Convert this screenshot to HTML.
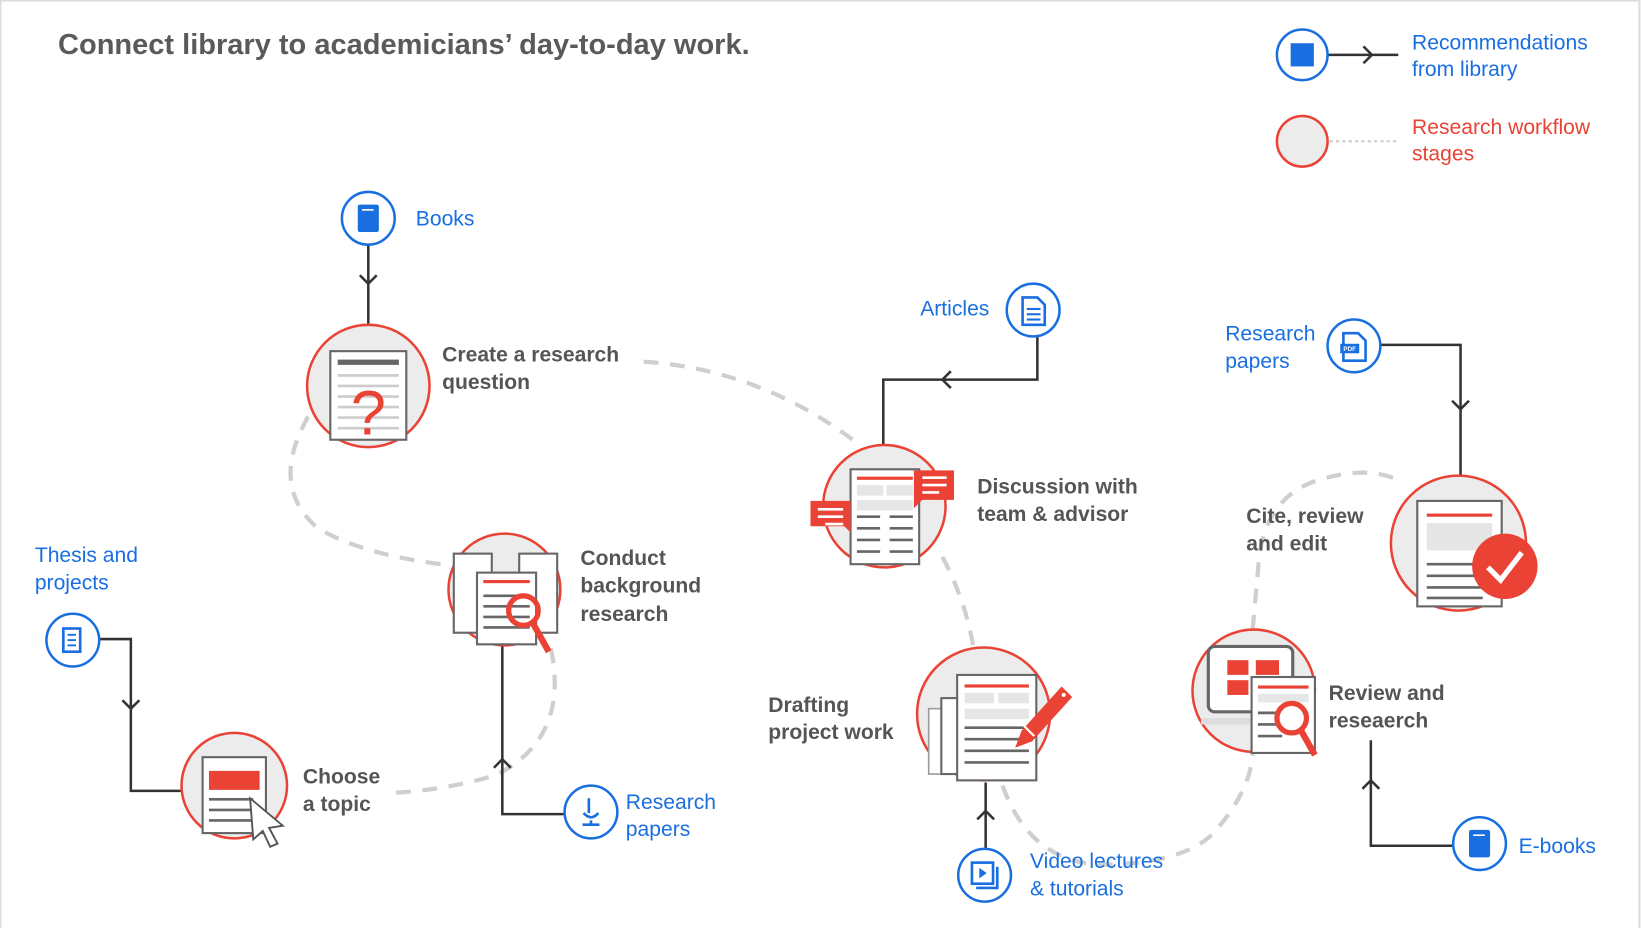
<!DOCTYPE html>
<html><head><meta charset="utf-8"><style>
html,body{margin:0;padding:0;background:#fff;}
svg{display:block;}
text{font-family:"Liberation Sans",Arial,sans-serif;}
.lb{fill:#555;font-weight:bold;font-size:20px;}
.bl{fill:#1a6fe0;font-size:20px;}
.ln{stroke:#333;stroke-width:2.4;fill:none;}
.ds{stroke:#cfcfcf;stroke-width:4;fill:none;stroke-dasharray:14 11;}
.st{fill:#ececec;stroke:#ea4335;stroke-width:2.4;}
.ic{fill:#fff;stroke:#1a6fe0;stroke-width:2.4;}
.pg{fill:#fff;stroke:#666;stroke-width:2;}
.gl{stroke:#666;stroke-width:2.5;}
.rd{fill:#ea4335;}
.bb{fill:#1a6fe0;}
</style></head><body>
<svg width="1641" height="928" viewBox="0 0 1555 880" preserveAspectRatio="none">
<rect x="0.5" y="0.5" width="1553" height="884" fill="#fff" stroke="#ddd" stroke-width="2"/>
<text x="55" y="51" style="font-size:27.5px;font-weight:bold;fill:#5a5a5a">Connect library to academicians’ day-to-day work.</text>

<!-- legend -->
<line x1="1258" y1="52" x2="1325" y2="52" class="ln"/>
<polyline points="1292,44 1300,52 1292,60" class="ln"/>
<circle cx="1234" cy="52" r="24" class="ic"/>
<rect x="1223" y="41" width="22" height="22" class="bb"/>
<text x="1338" y="47" class="bl">Recommendations</text>
<text x="1338" y="72" class="bl">from library</text>
<line x1="1260" y1="134" x2="1325" y2="134" stroke="#ccc" stroke-width="2" stroke-dasharray="3 3"/>
<circle cx="1234" cy="134" r="24" class="st"/>
<text x="1338" y="127" style="fill:#ea4335;font-size:20px">Research workflow</text>
<text x="1338" y="152" style="fill:#ea4335;font-size:20px">stages</text>

<!-- dashed workflow -->
<path class="ds" d="M610,343 Q720,350 812,420"/>
<path class="ds" d="M292,395 Q255,460 300,500 Q340,525 418,535"/>
<path class="ds" d="M522,615 Q540,700 470,735 Q420,750 368,752"/>
<path class="ds" d="M893,528 Q915,570 922,612"/>
<path class="ds" d="M950,745 Q975,815 1040,820 Q1120,820 1150,790 Q1185,750 1187,715"/>
<path class="ds" d="M1187,597 L1193,530 Q1200,470 1250,455 Q1300,440 1330,458"/>

<!-- connectors -->
<path class="ln" d="M349,232 V308"/><polyline class="ln" points="341,261 349,269 357,261"/>
<path class="ln" d="M983,319 V360 H837 V422"/><polyline class="ln" points="901,352 893,360 901,368"/>
<path class="ln" d="M1308,327 H1384 V450"/><polyline class="ln" points="1376,380 1384,388 1392,380"/>
<path class="ln" d="M94,606 H124 V750 H172"/><polyline class="ln" points="116,664 124,672 132,664"/>
<path class="ln" d="M535,772 H476 V612"/><polyline class="ln" points="468,728 476,720 484,728"/>
<path class="ln" d="M934,805 V742"/><polyline class="ln" points="926,777 934,769 942,777"/>
<path class="ln" d="M1377,802 H1299 V702"/><polyline class="ln" points="1291,748 1299,740 1307,748"/>

<!-- stage: create -->
<circle cx="349" cy="366" r="58" class="st"/>
<rect x="313" y="333" width="72" height="84" class="pg"/>
<rect x="320" y="341" width="58" height="5" fill="#666"/>
<g stroke="#ccc" stroke-width="2.5"><line x1="320" y1="356" x2="378" y2="356"/><line x1="320" y1="366" x2="378" y2="366"/><line x1="320" y1="376" x2="378" y2="376"/><line x1="320" y1="386" x2="378" y2="386"/><line x1="320" y1="396" x2="378" y2="396"/><line x1="320" y1="406" x2="378" y2="406"/></g>
<text x="349" y="412" text-anchor="middle" style="fill:#ea4335;font-size:60px">?</text>
<text x="419" y="343" class="lb">Create a research</text>
<text x="419" y="369" class="lb">question</text>

<!-- stage: conduct -->
<circle cx="478" cy="559" r="53" class="st"/>
<rect x="430" y="525" width="36" height="75" class="pg"/>
<rect x="492" y="525" width="36" height="75" class="pg"/>
<rect x="452" y="543" width="56" height="68" class="pg"/>
<rect x="458" y="550" width="44" height="3" class="rd"/>
<g class="gl"><line x1="458" y1="565" x2="502" y2="565"/><line x1="458" y1="575" x2="502" y2="575"/><line x1="458" y1="585" x2="502" y2="585"/><line x1="458" y1="595" x2="502" y2="595"/></g>
<circle cx="496" cy="579" r="14" fill="none" stroke="#ea4335" stroke-width="5"/>
<line x1="505" y1="591" x2="520" y2="618" stroke="#ea4335" stroke-width="6"/>
<text x="550" y="536" class="lb">Conduct</text>
<text x="550" y="562" class="lb">background</text>
<text x="550" y="589" class="lb">research</text>

<!-- stage: choose -->
<circle cx="222" cy="745" r="50" class="st"/>
<rect x="192" y="718" width="60" height="72" class="pg"/>
<rect x="198" y="731" width="48" height="18" class="rd"/>
<g class="gl"><line x1="198" y1="758" x2="240" y2="758"/><line x1="198" y1="768" x2="240" y2="768"/><line x1="198" y1="778" x2="240" y2="778"/></g>
<path d="M237,757 L268,783 L255,785 L263,800 L256,803 L249,788 L240,796 Z" fill="#fff" stroke="#555" stroke-width="1.8"/>
<text x="287" y="743" class="lb">Choose</text>
<text x="287" y="769" class="lb">a topic</text>

<!-- stage: discussion -->
<circle cx="838" cy="480" r="58" class="st"/>
<rect x="806" y="445" width="65" height="90" class="pg"/>
<rect x="812" y="452" width="53" height="3" class="rd"/>
<rect x="812" y="460" width="25" height="10" fill="#e6e6e6"/><rect x="840" y="460" width="25" height="10" fill="#e6e6e6"/>
<rect x="812" y="474" width="53" height="10" fill="#e6e6e6"/>
<g class="gl"><line x1="812" y1="490" x2="834" y2="490"/><line x1="843" y1="490" x2="865" y2="490"/><line x1="812" y1="501" x2="834" y2="501"/><line x1="843" y1="501" x2="865" y2="501"/><line x1="812" y1="512" x2="834" y2="512"/><line x1="843" y1="512" x2="865" y2="512"/><line x1="812" y1="523" x2="834" y2="523"/><line x1="843" y1="523" x2="865" y2="523"/></g>
<path d="M866,446 h38 v28 h-30 l-8,8 z" class="rd"/>
<g stroke="#fff" stroke-width="2.5"><line x1="874" y1="453" x2="897" y2="453"/><line x1="874" y1="460" x2="897" y2="460"/><line x1="874" y1="467" x2="890" y2="467"/></g>
<path d="M768,475 h38 v30 l-6,-6 h-32 z" class="rd"/>
<g stroke="#fff" stroke-width="2.5"><line x1="775" y1="483" x2="799" y2="483"/><line x1="775" y1="490" x2="799" y2="490"/><line x1="782" y1="497" x2="799" y2="497"/></g>
<text x="926" y="468" class="lb">Discussion with</text>
<text x="926" y="494" class="lb">team &amp; advisor</text>

<!-- stage: drafting -->
<circle cx="932" cy="677" r="63" class="st"/>
<rect x="880" y="672" width="30" height="62" fill="#fff" stroke="#999" stroke-width="1.5"/>
<rect x="892" y="662" width="30" height="72" class="pg"/>
<rect x="907" y="640" width="75" height="100" class="pg"/>
<rect x="914" y="649" width="61" height="3" class="rd"/>
<rect x="914" y="657" width="28" height="10" fill="#e6e6e6"/><rect x="946" y="657" width="29" height="10" fill="#e6e6e6"/>
<rect x="914" y="672" width="61" height="10" fill="#e6e6e6"/>
<g class="gl"><line x1="914" y1="690" x2="975" y2="690"/><line x1="914" y1="701" x2="975" y2="701"/><line x1="914" y1="712" x2="975" y2="712"/><line x1="914" y1="723" x2="975" y2="723"/></g>
<path d="M1006,651 l10,10 l-38,42 l-16,6 l6,-16 z" class="rd"/>
<line x1="970" y1="688" x2="980" y2="698" stroke="#fff" stroke-width="2"/>
<circle cx="1008" cy="659" r="2" fill="#fff"/>
<text x="728" y="675" class="lb">Drafting</text>
<text x="728" y="701" class="lb">project work</text>

<!-- stage: review -->
<circle cx="1188" cy="655" r="58" class="st"/>
<rect x="1145" y="613" width="80" height="62" rx="6" fill="#fff" stroke="#666" stroke-width="3"/>
<rect x="1138" y="681" width="95" height="6" fill="#ddd"/>
<rect x="1163" y="626" width="20" height="14" class="rd"/><rect x="1190" y="626" width="22" height="14" class="rd"/>
<rect x="1163" y="645" width="20" height="14" class="rd"/>
<rect x="1186" y="642" width="60" height="72" class="pg"/>
<rect x="1192" y="650" width="48" height="3" class="rd"/>
<rect x="1192" y="658" width="48" height="8" fill="#e6e6e6"/>
<g class="gl"><line x1="1192" y1="676" x2="1215" y2="676"/><line x1="1192" y1="687" x2="1215" y2="687"/><line x1="1192" y1="698" x2="1215" y2="698"/></g>
<circle cx="1224" cy="681" r="14" fill="#fff" stroke="#ea4335" stroke-width="5"/>
<line x1="1233" y1="693" x2="1246" y2="716" stroke="#ea4335" stroke-width="6"/>
<text x="1259" y="664" class="lb">Review and</text>
<text x="1259" y="690" class="lb">reseaerch</text>

<!-- stage: cite -->
<circle cx="1382" cy="515" r="64" class="st"/>
<rect x="1343" y="475" width="80" height="100" class="pg"/>
<rect x="1352" y="487" width="62" height="3" class="rd"/>
<rect x="1352" y="496" width="62" height="26" fill="#e6e6e6"/>
<g class="gl"><line x1="1352" y1="535" x2="1405" y2="535"/><line x1="1352" y1="546" x2="1405" y2="546"/><line x1="1352" y1="557" x2="1405" y2="557"/><line x1="1352" y1="567" x2="1405" y2="567"/></g>
<circle cx="1426" cy="537" r="31" class="rd"/>
<polyline points="1410,538 1422,550 1442,524" fill="none" stroke="#fff" stroke-width="5"/>
<text x="1181" y="496" class="lb">Cite, review</text>
<text x="1181" y="522" class="lb">and edit</text>

<!-- blue icons -->
<circle cx="349" cy="207" r="25" class="ic"/>
<rect x="339" y="194" width="20" height="26" rx="2" class="bb"/>
<line x1="343" y1="199" x2="354" y2="199" stroke="#fff" stroke-width="1.5"/>
<text x="394" y="214" class="bl">Books</text>

<circle cx="979" cy="294" r="25" class="ic"/>
<path d="M969,282 h14 l7,7 v19 h-21 z" fill="#fff" stroke="#1a6fe0" stroke-width="2.5"/>
<g stroke="#1a6fe0" stroke-width="2"><line x1="973" y1="293" x2="986" y2="293"/><line x1="973" y1="298" x2="986" y2="298"/><line x1="973" y1="303" x2="986" y2="303"/></g>
<text x="872" y="299" class="bl">Articles</text>

<circle cx="1283" cy="328" r="25" class="ic"/>
<path d="M1273,316 h14 l7,7 v19 h-21 z" fill="#fff" stroke="#1a6fe0" stroke-width="2.5"/>
<rect x="1270" y="326" width="18" height="9" class="bb"/>
<text x="1279" y="333" text-anchor="middle" style="fill:#fff;font-size:6px;font-weight:bold">PDF</text>
<text x="1161" y="323" class="bl">Research</text>
<text x="1161" y="349" class="bl">papers</text>

<circle cx="69" cy="607" r="25" class="ic"/>
<rect x="60" y="596" width="16" height="22" fill="#fff" stroke="#1a6fe0" stroke-width="2.5"/>
<g stroke="#1a6fe0" stroke-width="1.8"><line x1="64" y1="602" x2="72" y2="602"/><line x1="64" y1="607" x2="72" y2="607"/><line x1="64" y1="612" x2="72" y2="612"/></g>
<text x="33" y="533" class="bl">Thesis and</text>
<text x="33" y="559" class="bl">projects</text>

<circle cx="560" cy="770" r="25" class="ic"/>
<path d="M558,757 v14 M553,771 q7,8 14,0 M552,782 h16 M560,778 v4" fill="none" stroke="#1a6fe0" stroke-width="2.5"/>
<text x="593" y="767" class="bl">Research</text>
<text x="593" y="793" class="bl">papers</text>

<circle cx="933" cy="830" r="25" class="ic"/>
<rect x="921" y="818" width="20" height="20" fill="#fff" stroke="#1a6fe0" stroke-width="2.5"/>
<path d="M925,842 h20 v-20" fill="none" stroke="#1a6fe0" stroke-width="2.5"/>
<path d="M928,823 l7,5 l-7,5 z" class="bb"/>
<text x="976" y="823" class="bl">Video lectures</text>
<text x="976" y="849" class="bl">&amp; tutorials</text>

<circle cx="1402" cy="800" r="25" class="ic"/>
<rect x="1392" y="787" width="20" height="26" rx="2" class="bb"/>
<line x1="1396" y1="792" x2="1407" y2="792" stroke="#fff" stroke-width="1.5"/>
<text x="1439" y="809" class="bl">E-books</text>
</svg>
</body></html>
